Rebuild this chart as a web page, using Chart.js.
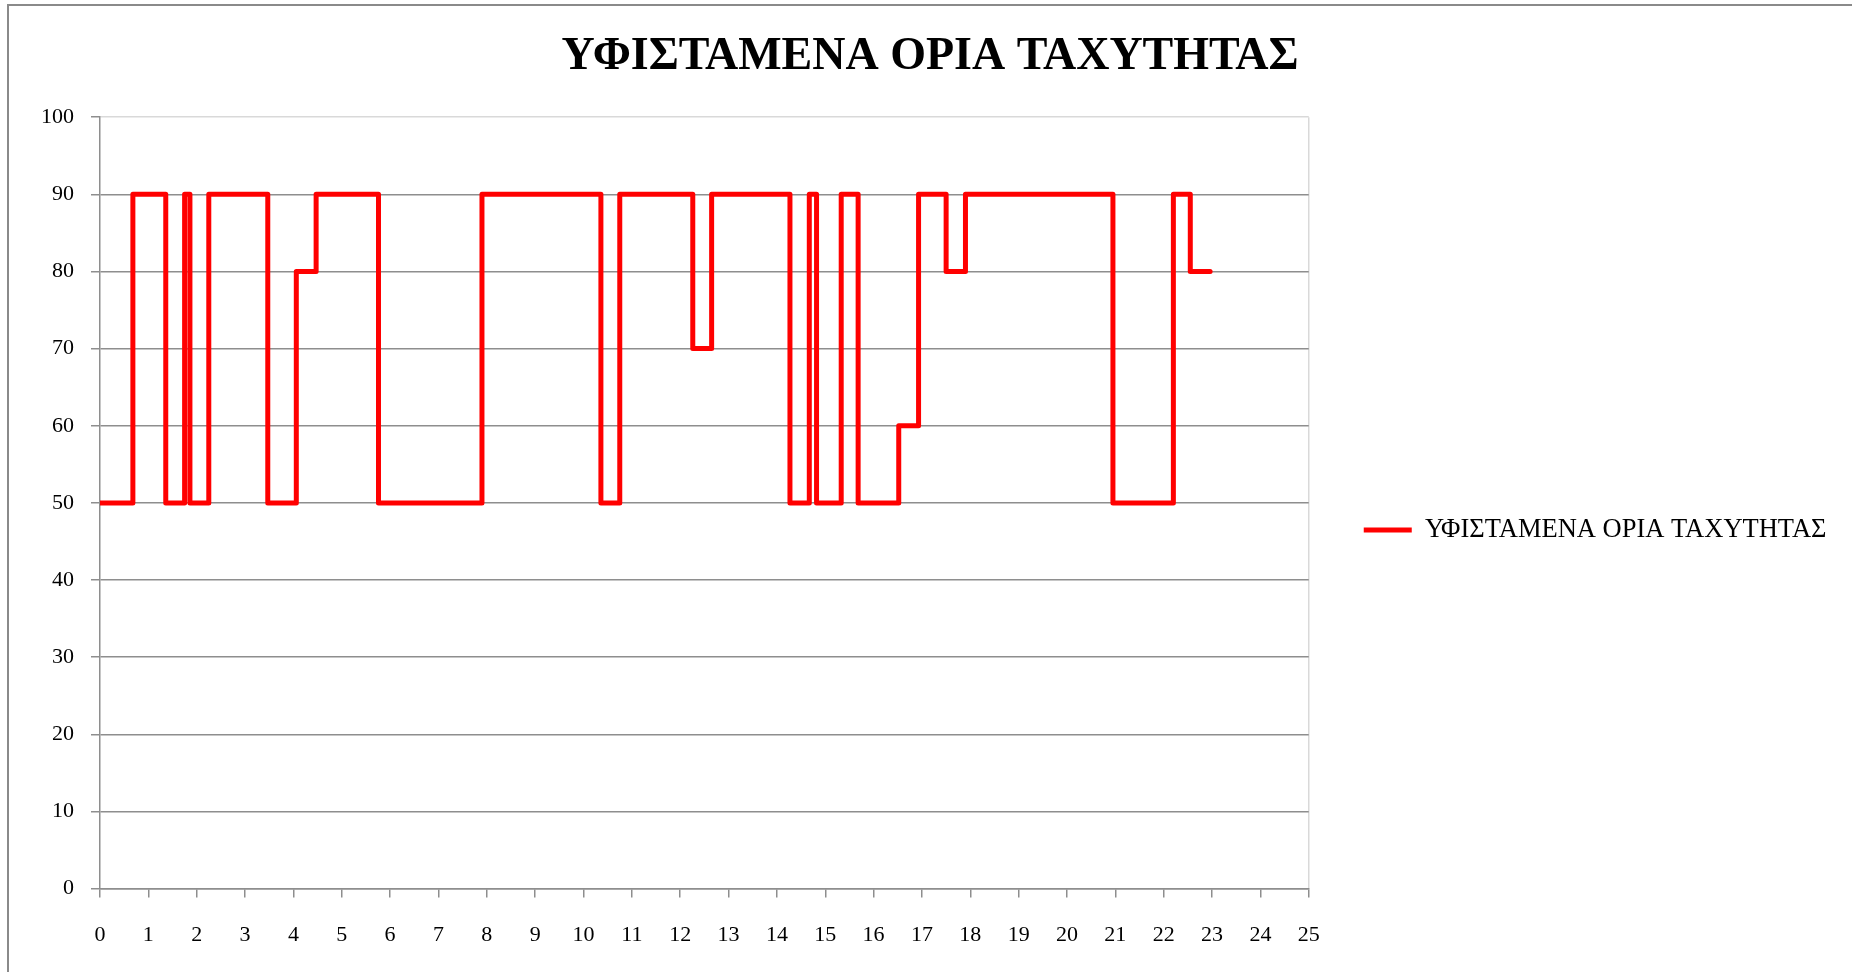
<!DOCTYPE html>
<html>
<head>
<meta charset="utf-8">
<script src="https://cdn.jsdelivr.net/npm/chart.js@4.4.1/dist/chart.umd.min.js"></script>
<style>
  html, body { margin: 0; padding: 0; background: #fff; overflow: hidden; }
  #wrap { position: relative; width: 1852px; height: 972px; }
  #frame {
    position: absolute; left: 7px; top: 4px; right: -10px; bottom: -10px;
    border-left: 2px solid #8a8a8a; border-top: 2px solid #8a8a8a;
    pointer-events: none;
  }
</style>
</head>
<body>
<div id="wrap">
  <canvas id="myChart"></canvas>
  <div id="frame"></div>
</div>
<script>
// km position where the limit changes, and the limit from there on
const kmMarks = [0, 0.68, 1.36, 1.75, 1.86, 2.25, 3.47, 4.06, 4.47, 5.76, 7.90, 10.36, 10.75, 12.26,
  12.65, 14.27, 14.67, 14.82, 15.33, 15.68, 16.52, 16.93, 17.50, 17.90, 20.95, 22.20, 22.55, 22.96];
const speedLimits = [50, 90, 50, 90, 50, 90, 50, 80, 90, 50, 90, 50, 90, 70,
  90, 50, 90, 50, 90, 50, 60, 90, 80, 90, 50, 90, 80, 80];

const seriesName = 'ΥΦΙΣΤΑΜΕΝΑ ΟΡΙΑ ΤΑΧΥΤΗΤΑΣ';
const chartTitle = 'ΥΦΙΣΤΑΜΕΝΑ ΟΡΙΑ ΤΑΧΥΤΗΤΑΣ';

const points = kmMarks.map((km, i) => ({ x: km, y: speedLimits[i] }));

const gridGrey = '#8e8e8e';
const borderGrey = '#d9d9d9';

// small layout fixes: legend lower and wide enough for its text, title centred on the page
const layoutTweaks = {
  id: 'layoutTweaks',
  afterLayout(chart) {
    const lg = chart.legend;
    if (lg) {
      lg.top += 44;
      lg.bottom += 44;
      lg.right = chart.width;
      lg.width = lg.right - lg.left;
    }
    const tb = chart.titleBlock;
    if (tb) {
      tb.left = 8;
      tb.right = chart.width;
      tb.width = tb.right - tb.left;
    }
  }
};

Chart.defaults.font.family = "'Liberation Serif', 'Times New Roman', serif";
Chart.defaults.color = '#000';

const ctx = document.getElementById('myChart').getContext('2d');
new Chart(ctx, {
  type: 'line',
  data: {
    datasets: [{
      label: seriesName,
      data: points,
      stepped: 'before',
      borderColor: '#ff0000',
      backgroundColor: '#ff0000',
      borderWidth: 5,
      borderJoinStyle: 'round',
      borderCapStyle: 'round',
      pointRadius: 0,
      fill: false
    }]
  },
  options: {
    responsive: true,
    maintainAspectRatio: false,
    animation: false,
    layout: { padding: { left: 24, right: 115, top: 0, bottom: 0 } },
    scales: {
      x: {
        type: 'linear',
        min: 0,
        max: 25,
        ticks: { stepSize: 1, autoSkip: false, maxRotation: 0, padding: 24, font: { size: 22 } },
        grid: {
          drawOnChartArea: true,
          color: (c) => c.tick && c.tick.value === 25 ? borderGrey : 'rgba(0,0,0,0)',
          tickColor: gridGrey,
          tickLength: 9,
          lineWidth: 1.5
        },
        border: { color: gridGrey, width: 1.5 }
      },
      y: {
        min: 0,
        max: 100,
        ticks: { stepSize: 10, padding: 17, font: { size: 22 } },
        grid: {
          color: (c) => c.tick && c.tick.value === 100 ? borderGrey : gridGrey,
          tickColor: gridGrey,
          tickLength: 9,
          lineWidth: 1.5
        },
        border: { color: gridGrey, width: 1.5 }
      }
    },
    plugins: {
      title: {
        display: true,
        text: chartTitle,
        font: { size: 46, weight: 'bold' },
        padding: { top: 30, bottom: 32 },
        color: '#000'
      },
      legend: {
        position: 'right',
        labels: {
          usePointStyle: true,
          pointStyle: 'line',
          pointStyleWidth: 48,
          padding: 55,
          font: { size: 26.5 },
          color: '#000'
        }
      },
      tooltip: { enabled: false }
    }
  },
  plugins: [layoutTweaks]
});
</script>
</body>
</html>
